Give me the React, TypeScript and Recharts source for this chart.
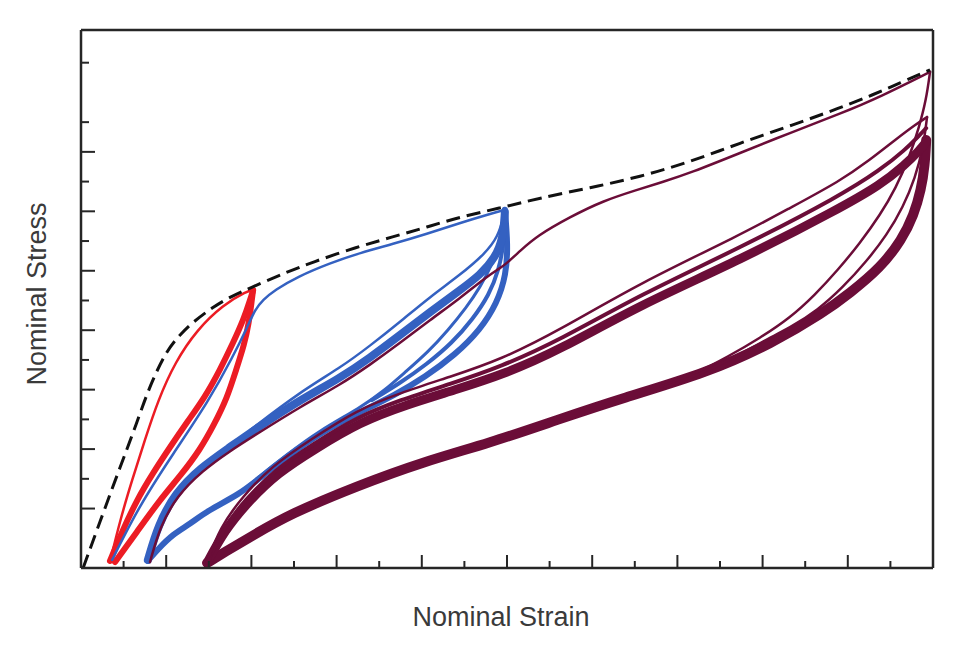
import React from 'react';
import { LineChart, Line, XAxis, YAxis } from 'recharts';

// Mullins-effect cyclic loading: nominal stress vs nominal strain.
// Each loop is kept as its own [strain, stress] path.

type P = [number, number];

const virginCurve: P[] = [
  [0.05, 0.0], [0.52, 1.85], [0.92, 3.4], [1.31, 4.88], [1.62, 6.16], [2.02, 7.34],
  [2.32, 7.84], [2.63, 8.28], [3.1, 8.78], [3.5, 9.12], [3.97, 9.42], [4.67, 9.86],
  [5.45, 10.3], [6.48, 10.8], [7.32, 11.14], [8.12, 11.47], [8.9, 11.81], [9.84, 12.11],
  [10.77, 12.45], [11.95, 12.79], [13.12, 13.16], [14.3, 13.66], [15.47, 14.3],
  [16.64, 14.87], [17.82, 15.48], [18.59, 15.92], [19.23, 16.32], [19.93, 16.76],
];

// red: first cycle set
const redLoad: P[] = [
  [0.68, 0.2], [0.92, 1.62], [1.2, 2.96], [1.5, 4.31], [1.81, 5.65], [2.21, 6.93],
  [2.72, 8.01], [3.33, 8.85], [3.9, 9.32], [4.04, 9.35],
];
const redUnload: P[] = [
  [4.04, 9.35], [4.01, 9.02], [3.94, 8.24], [3.83, 7.5], [3.64, 6.66], [3.43, 5.72],
  [3.12, 4.81], [2.79, 3.97], [2.35, 3.13], [1.85, 2.29], [1.31, 1.21], [0.8, 0.2],
];
const redReload: P[] = [
  [0.68, 0.24], [0.96, 1.21], [1.31, 2.29], [1.69, 3.2], [2.09, 4.07], [2.51, 4.95],
  [2.91, 5.75], [3.26, 6.66], [3.57, 7.57], [3.83, 8.41], [3.97, 9.02], [4.04, 9.35],
];

// blue: second cycle set
const blueLoad: P[] = [
  [0.73, 0.27], [1.36, 2.08], [2.17, 3.86], [2.99, 5.6], [3.57, 7.12], [3.92, 8.15],
  [4.08, 8.68], [4.27, 9.02], [4.55, 9.35], [5.07, 9.79], [5.85, 10.26], [6.55, 10.6],
  [7.32, 10.9], [8.12, 11.24], [8.9, 11.61], [9.6, 11.91], [9.95, 12.05],
];
const blueUnloadLow: P[] = [
  [9.95, 12.05], [10.02, 10.87], [9.98, 9.86], [9.77, 8.92], [9.37, 8.01], [8.78, 7.17],
  [8.08, 6.43], [7.37, 5.82], [6.55, 5.25], [5.61, 4.54], [4.79, 3.7], [4.2, 3.03],
  [3.73, 2.49], [2.96, 1.92], [2.56, 1.48], [2.16, 1.14], [1.81, 0.64], [1.57, 0.24],
];
const blueUnloadMid: P[] = [
  [9.95, 11.98], [9.93, 10.94], [9.81, 10.03], [9.58, 9.19], [9.2, 8.38], [8.71, 7.57],
  [8.12, 6.86], [7.49, 6.22], [6.83, 5.65],
];
const blueUnloadUp: P[] = [
  [9.93, 11.91], [9.84, 10.97], [9.65, 10.2], [9.37, 9.45], [9.04, 8.75], [8.62, 8.01],
  [8.15, 7.27], [7.61, 6.59], [7.14, 5.99], [6.55, 5.38], [5.61, 4.64], [4.79, 3.77],
  [4.2, 3.1], [3.73, 2.52],
];
const blueReload: P[] = [
  [1.57, 0.27], [1.81, 1.45], [2.21, 2.52], [2.79, 3.36], [3.5, 4.07], [4.13, 4.71],
  [5.14, 5.65], [6.08, 6.39], [6.78, 7.07], [7.49, 7.84], [8.19, 8.61], [8.9, 9.35],
  [9.37, 9.86], [9.72, 10.43], [9.91, 11.1], [9.95, 11.98],
];
const blueReloadTop: P[] = [
  [3.97, 4.64], [5.14, 5.92], [6.08, 6.73], [6.78, 7.47], [7.49, 8.28], [8.19, 9.12],
  [8.9, 9.86], [9.48, 10.57], [9.79, 11.14], [9.93, 11.88],
];

// maroon: third cycle set
const maroonLoad: P[] = [
  [1.62, 0.2], [1.85, 1.38], [2.25, 2.42], [2.84, 3.26], [3.5, 3.94], [4.13, 4.51],
  [5.14, 5.42], [6.08, 6.16], [6.78, 6.83], [7.49, 7.57], [8.19, 8.34], [8.9, 9.08],
  [9.48, 9.76], [9.84, 10.09], [10.0, 10.26], [10.31, 10.67], [10.7, 11.17], [11.48, 11.81],
  [12.25, 12.35], [13.05, 12.72], [13.66, 12.99], [14.3, 13.29], [15.47, 13.96],
  [16.64, 14.64], [17.82, 15.28], [18.76, 15.85], [19.93, 16.69],
];
const maroonUnload1: P[] = [
  [19.93, 16.69], [19.84, 15.75], [19.67, 14.81], [19.44, 13.8], [19.13, 12.79],
  [18.76, 11.88], [18.29, 10.94], [17.77, 10.03], [17.23, 9.19], [16.64, 8.41],
  [15.94, 7.74], [15.2, 7.12], [14.4, 6.52], [13.6, 6.1],
];
const maroonUnload2: P[] = [
  [19.86, 15.17], [19.77, 14.13], [19.58, 13.12], [19.3, 12.15], [18.92, 11.21],
  [18.43, 10.3], [17.89, 9.45], [17.3, 8.68], [16.64, 8.08], [16.06, 7.67],
  [15.3, 7.05], [14.5, 6.5], [13.7, 6.08],
];
const maroonUnloadBand: P[] = [
  [19.84, 14.4], [19.81, 13.56], [19.72, 12.72], [19.55, 11.88], [19.27, 11.04],
  [18.76, 10.09], [18.05, 9.25], [17.42, 8.58], [16.24, 7.57], [14.69, 6.56],
  [12.72, 5.72], [11.17, 4.98], [9.6, 4.21], [8.03, 3.57], [6.48, 2.76], [4.91, 1.82],
  [3.97, 1.04], [3.38, 0.54], [2.96, 0.17],
];
const maroonReloadTop: P[] = [
  [2.96, 0.2], [3.26, 1.35], [3.78, 2.39], [4.48, 3.43], [5.38, 4.31], [6.48, 5.32],
  [7.49, 5.89], [8.66, 6.43], [9.84, 7.0], [11.24, 8.01], [13.12, 9.59], [15.47, 11.2],
  [16.64, 12.11], [17.82, 13.02], [18.52, 13.73], [19.11, 14.4], [19.58, 14.91], [19.86, 15.17],
];
const maroonReloadMid: P[] = [
  [2.96, 0.17], [3.31, 1.28], [3.85, 2.29], [4.55, 3.3], [5.42, 4.14], [6.48, 5.08],
  [7.49, 5.65], [8.66, 6.19], [9.84, 6.76], [11.24, 7.67], [13.12, 9.19], [15.47, 10.77],
  [17.82, 12.52], [18.76, 13.39], [19.34, 14.06], [19.69, 14.57], [19.84, 14.8],
];
const maroonReloadBand: P[] = [
  [2.96, 0.17], [3.36, 1.24], [3.92, 2.22], [4.62, 3.2], [5.49, 4.0], [6.55, 4.91],
  [7.61, 5.48], [8.78, 5.99], [9.95, 6.53], [11.24, 7.34], [13.12, 8.85], [15.47, 10.36],
  [17.82, 12.11], [18.76, 12.89], [19.34, 13.56], [19.69, 14.06], [19.84, 14.33],
];

// tick marks only, no labels; even ones are drawn longer
const xTicks = [1, 2, 3, 4, 5, 6, 7, 8, 9, 10, 11, 12, 13, 14, 15, 16, 17, 18, 19];
const yTicks = [2, 3, 4, 5, 6, 7, 8, 9, 10, 11, 12, 13, 14, 15, 17];

const RED = '#ec1c24';
const BLUE = '#3461c1';
const MAROON = '#6b0d38';
const AXIS = '#262626';

const PLOT_LEFT = 81;
const PLOT_BOTTOM = 568;

const rows = (p: P[]) => p.map(([x, y]) => ({ x, y }));

// draw order matters: blue loops, then red, blue first loading, maroon, dashed on top
const series: { key: string; pts: P[]; color: string; width: number; dash?: string }[] = [
  { key: 'blueUnloadLow', pts: blueUnloadLow, color: BLUE, width: 6 },
  { key: 'blueUnloadMid', pts: blueUnloadMid, color: BLUE, width: 4 },
  { key: 'blueUnloadUp', pts: blueUnloadUp, color: BLUE, width: 3 },
  { key: 'blueReload', pts: blueReload, color: BLUE, width: 8 },
  { key: 'blueReloadTop', pts: blueReloadTop, color: BLUE, width: 2.5 },
  { key: 'redReload', pts: redReload, color: RED, width: 6 },
  { key: 'redUnload', pts: redUnload, color: RED, width: 6 },
  { key: 'redLoad', pts: redLoad, color: RED, width: 2.5 },
  { key: 'blueLoad', pts: blueLoad, color: BLUE, width: 2.5 },
  { key: 'maroonLoad', pts: maroonLoad, color: MAROON, width: 2.5 },
  { key: 'maroonUnloadBand', pts: maroonUnloadBand, color: MAROON, width: 10 },
  { key: 'maroonUnload1', pts: maroonUnload1, color: MAROON, width: 2.5 },
  { key: 'maroonUnload2', pts: maroonUnload2, color: MAROON, width: 2.5 },
  { key: 'maroonReloadBand', pts: maroonReloadBand, color: MAROON, width: 9 },
  { key: 'maroonReloadMid', pts: maroonReloadMid, color: MAROON, width: 4 },
  { key: 'maroonReloadTop', pts: maroonReloadTop, color: MAROON, width: 2.5 },
  { key: 'virgin', pts: virginCurve, color: '#111', width: 3, dash: '14 7' },
];

function XTick(props: any) {
  const { x, payload } = props;
  const len = payload.value % 2 === 0 ? 13 : 7;
  return <line x1={x} x2={x} y1={PLOT_BOTTOM} y2={PLOT_BOTTOM - len} stroke={AXIS} strokeWidth={2} />;
}

function YTick(props: any) {
  const { y, payload } = props;
  const len = payload.value % 2 === 0 ? 14 : 8;
  return <line x1={PLOT_LEFT} x2={PLOT_LEFT + len} y1={y} y2={y} stroke={AXIS} strokeWidth={2} />;
}

const labelFont: React.CSSProperties = {
  position: 'absolute',
  fontFamily: '"Liberation Sans", Arial, sans-serif',
  fontSize: 27,
  color: '#3a3a3a',
  whiteSpace: 'nowrap',
  lineHeight: 1,
};

export default function App() {
  const frame = { stroke: AXIS, strokeWidth: 2.5 };
  return (
    <div style={{ position: 'absolute', left: 0, top: 0, width: 968, height: 648, background: '#fff' }}>
      <LineChart width={968} height={648} margin={{ top: 29, right: 34, bottom: 79, left: 80 }}>
        <XAxis
          xAxisId="x" dataKey="x" type="number" domain={[0, 20]} allowDataOverflow
          ticks={xTicks} interval={0} height={1} tick={<XTick />} tickLine={false} axisLine={frame}
        />
        <XAxis
          xAxisId="xTop" orientation="top" type="number" domain={[0, 20]} height={1}
          tick={false} tickLine={false} axisLine={frame}
        />
        <YAxis
          yAxisId="y" type="number" domain={[0, 18.1]} allowDataOverflow
          ticks={yTicks} interval={0} width={1} tick={<YTick />} tickLine={false} axisLine={frame}
        />
        <YAxis
          yAxisId="yRight" orientation="right" type="number" domain={[0, 18.1]} width={1}
          tick={false} tickLine={false} axisLine={frame}
        />
        {series.map((s) => (
          <Line
            key={s.key}
            data={rows(s.pts)}
            dataKey="y"
            xAxisId="x"
            yAxisId="y"
            type="basis"
            stroke={s.color}
            strokeWidth={s.width}
            strokeDasharray={s.dash}
            strokeLinecap={s.dash ? 'butt' : 'round'}
            strokeLinejoin="round"
            dot={false}
            activeDot={false}
            isAnimationActive={false}
          />
        ))}
      </LineChart>
      <div style={{ ...labelFont, left: 501, top: 604, transform: 'translateX(-50%)' }}>Nominal Strain</div>
      <div
        style={{
          ...labelFont,
          left: 37,
          top: 294,
          transform: 'translate(-50%, -50%) rotate(-90deg)',
        }}
      >
        Nominal Stress
      </div>
    </div>
  );
}
